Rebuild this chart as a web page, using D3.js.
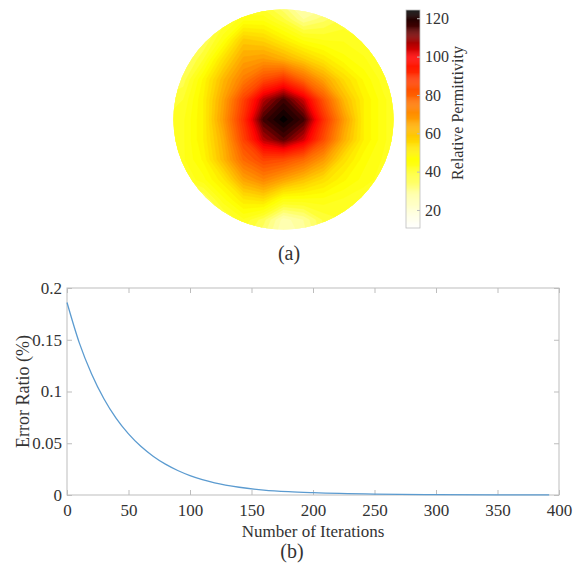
<!DOCTYPE html>
<html>
<head>
<meta charset="utf-8">
<script src="https://cdn.jsdelivr.net/npm/d3@7"></script>
<style>
body { margin: 0; background: #fff; }
text { font-family: "Liberation Serif", "Times New Roman", serif; fill: #333; }
</style>
</head>
<body>
<div class="js-chart"></div>
<script>
'use strict';

// (a) relative permittivity on a 13 x 13 grid, 20 px apart,
// centre node sits on the centre of the disc
const permittivityGrid = [
	[30, 30, 30, 32, 36, 36, 30, 24, 26, 32, 32, 30, 30],
	[30, 30, 32, 38, 44, 44, 38, 30, 34, 38, 36, 32, 30],
	[30, 30, 34, 44, 58, 56, 50, 44, 42, 42, 40, 36, 34],
	[32, 32, 40, 54, 66, 68, 64, 58, 52, 46, 43, 39, 36],
	[35, 36, 48, 62, 74, 84, 90, 78, 66, 55, 47, 41, 38],
	[38, 40, 50, 66, 86, 106, 116, 104, 82, 62, 50, 43, 39],
	[40, 42, 50, 68, 90, 116, 124, 116, 90, 68, 50, 43, 39],
	[40, 42, 50, 64, 86, 106, 114, 104, 84, 64, 50, 43, 39],
	[40, 42, 48, 62, 78, 86, 84, 78, 68, 54, 46, 42, 39],
	[38, 40, 44, 52, 66, 72, 66, 60, 54, 48, 44, 41, 38],
	[34, 32, 34, 44, 52, 54, 44, 44, 44, 42, 40, 38, 36],
	[32, 30, 28, 36, 42, 36, 26, 30, 38, 40, 38, 36, 34],
	[32, 30, 30, 34, 38, 32, 24, 28, 36, 38, 36, 34, 32]
];
const permittivityRange = [10.6, 124.3];
const colorbarTicks = [20, 40, 60, 80, 100, 120];

// (b) convergence curve
const iterations = [0, 10, 20, 30, 40, 50, 60, 70, 80, 90, 100, 110, 120, 140, 160, 180, 200, 250, 300, 350, 392];
const errorRatio = [0.186, 0.147, 0.117, 0.093, 0.074, 0.059, 0.047, 0.0375, 0.0298, 0.0237, 0.0188, 0.0149,
	0.0118, 0.0075, 0.0048, 0.0032, 0.0022, 0.0008, 0.0003, 0.0001, 0.00005];
const xTicks = [0, 50, 100, 150, 200, 250, 300, 350, 400];
const yTicks = [0, 0.05, 0.1, 0.15, 0.2];
const yTickLabels = ['0', '0.05', '0.1', '0.15', '0.2'];

const svgWidth = 577;
const svgHeight = 567;
const axisGray = '#bdbdbd';

const svg = d3.select('.js-chart')
	.append('svg')
	.attr('width', svgWidth)
	.attr('height', svgHeight)
	.style('display', 'block');

svg.append('rect')
	.attr('width', svgWidth)
	.attr('height', svgHeight)
	.attr('fill', '#fff');

// flipped "hot" colormap
const heatColor = d3.scaleLinear()
	.domain([10.6, 20, 30, 40, 47, 55, 62, 70, 80, 90, 100, 108, 116, 124.3])
	.range(['#ffffff', '#ffffd8', '#ffff98', '#ffff28', '#ffff00', '#ffdc00', '#ffb800',
		'#ff9000', '#ff6000', '#ff3000', '#ff0000', '#a00000', '#400000', '#000000'])
	.clamp(true);

function drawDisc() {
	const cx = 283.5, cy = 119.5, r = 110;
	const n = permittivityGrid.length;
	const step = 20;
	const x0 = cx - step * (n - 1) / 2;
	const y0 = cy - step * (n - 1) / 2;

	svg.append('clipPath')
		.attr('id', 'disc')
		.append('circle')
		.attr('cx', cx)
		.attr('cy', cy)
		.attr('r', r);

	const values = permittivityGrid.flat();
	const contours = d3.contours()
		.size([n, n])
		.thresholds(d3.range(10, 126, 2.5))(values);

	// contour coords put sample k at k + 0.5
	const toPixels = d3.geoTransform({
		point: function(x, y) {
			this.stream.point(x0 + (x - 0.5) * step, y0 + (y - 0.5) * step);
		}
	});

	const g = svg.append('g').attr('clip-path', 'url(#disc)');

	g.append('circle')
		.attr('cx', cx)
		.attr('cy', cy)
		.attr('r', r)
		.attr('fill', heatColor(d3.min(values)));

	g.selectAll('path')
		.data(contours)
		.enter()
		.append('path')
		.attr('d', d3.geoPath(toPixels))
		.attr('fill', d => heatColor(d.value + 1.25))
		.attr('stroke', d => heatColor(d.value + 1.25))
		.attr('stroke-width', 0.6);

	// colorbar
	const barX = 406, barW = 14;
	const yBar = d3.scaleLinear().domain(permittivityRange).range([228, 10]);
	const bar = svg.append('g');
	bar.selectAll('rect')
		.data(d3.range(permittivityRange[0], permittivityRange[1], 0.5))
		.enter()
		.append('rect')
		.attr('x', barX)
		.attr('y', d => yBar(Math.min(d + 0.5, permittivityRange[1])))
		.attr('width', barW)
		.attr('height', d => yBar(d) - yBar(Math.min(d + 0.5, permittivityRange[1])) + 0.3)
		.attr('fill', d => heatColor(d + 0.25));
	bar.append('rect')
		.attr('x', barX)
		.attr('y', 10)
		.attr('width', barW)
		.attr('height', 218)
		.attr('fill', 'none')
		.attr('stroke', axisGray)
		.attr('stroke-width', 0.8);

	const barAxis = d3.axisRight(yBar)
		.tickValues(colorbarTicks)
		.tickSizeInner(-3)
		.tickSizeOuter(0)
		.tickPadding(5);
	const barAxisG = svg.append('g')
		.attr('transform', `translate(${barX + barW},0)`)
		.call(barAxis);
	barAxisG.select('.domain').remove();
	barAxisG.selectAll('line').attr('stroke', axisGray);
	barAxisG.selectAll('text')
		.attr('font-size', 16)
		.attr('font-family', null)
		.attr('fill', '#333');

	svg.append('text')
		.attr('transform', 'translate(463,113) rotate(-90)')
		.attr('text-anchor', 'middle')
		.attr('font-size', 16)
		.text('Relative Permittivity');

	svg.append('text')
		.attr('x', 289)
		.attr('y', 260)
		.attr('text-anchor', 'middle')
		.attr('font-size', 20)
		.text('(a)');
}

function drawCurve() {
	const left = 67, right = 559, top = 288, bottom = 495;

	const xScale = d3.scaleLinear().domain([0, 400]).range([left, right]);
	const yScale = d3.scaleLinear().domain([0, 0.2]).range([bottom, top]);

	svg.append('rect')
		.attr('x', left)
		.attr('y', top)
		.attr('width', right - left)
		.attr('height', bottom - top)
		.attr('fill', 'none')
		.attr('stroke', axisGray);

	const styleAxis = function(g) {
		g.select('.domain').remove();
		g.selectAll('line').attr('stroke', axisGray);
		g.selectAll('text')
			.attr('font-size', 17)
			.attr('font-family', null)
			.attr('fill', '#333');
	};

	svg.append('g')
		.attr('transform', `translate(0,${bottom})`)
		.call(d3.axisBottom(xScale).tickValues(xTicks).tickSizeInner(-5).tickSizeOuter(0).tickPadding(9))
		.call(styleAxis);
	svg.append('g')
		.attr('transform', `translate(0,${top})`)
		.call(d3.axisTop(xScale).tickValues(xTicks).tickSizeInner(-5).tickSizeOuter(0).tickFormat(''))
		.call(styleAxis);
	svg.append('g')
		.attr('transform', `translate(${left},0)`)
		.call(d3.axisLeft(yScale).tickValues(yTicks).tickSizeInner(-5).tickSizeOuter(0).tickPadding(5)
			.tickFormat((d, i) => yTickLabels[i]))
		.call(styleAxis);
	svg.append('g')
		.attr('transform', `translate(${right},0)`)
		.call(d3.axisRight(yScale).tickValues(yTicks).tickSizeInner(-5).tickSizeOuter(0).tickFormat(''))
		.call(styleAxis);

	const line = d3.line()
		.x((d, i) => xScale(iterations[i]))
		.y(d => yScale(d))
		.curve(d3.curveMonotoneX);

	svg.append('path')
		.datum(errorRatio)
		.attr('d', line)
		.attr('fill', 'none')
		.attr('stroke', '#5b9bd0')
		.attr('stroke-width', 1.3);

	svg.append('text')
		.attr('x', (left + right) / 2)
		.attr('y', 537)
		.attr('text-anchor', 'middle')
		.attr('font-size', 17)
		.text('Number of Iterations');

	svg.append('text')
		.attr('transform', `translate(29,${(top + bottom) / 2}) rotate(-90)`)
		.attr('text-anchor', 'middle')
		.attr('font-size', 18)
		.text('Error Ratio (%)');

	svg.append('text')
		.attr('x', 292)
		.attr('y', 558)
		.attr('text-anchor', 'middle')
		.attr('font-size', 20)
		.text('(b)');
}

drawDisc();
drawCurve();
</script>
</body>
</html>
